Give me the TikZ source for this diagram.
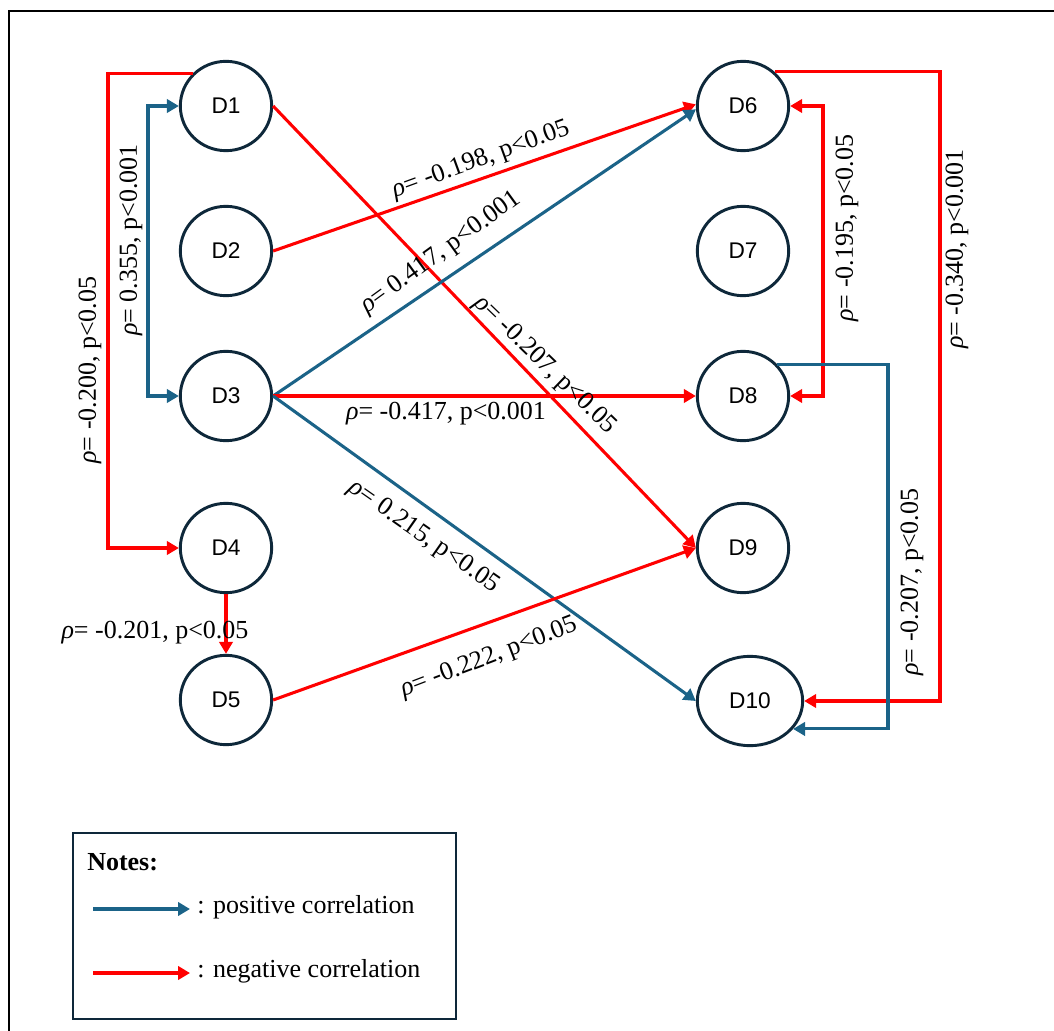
\documentclass[tikz,border=0pt]{standalone}
\usepackage{fontspec}
\setmainfont{Liberation Serif}
\newfontfamily\nodefont{Liberation Sans}
\usetikzlibrary{arrows.meta,shapes.geometric}
\definecolor{posblue}{RGB}{27,99,136}
\definecolor{negred}{RGB}{255,0,0}
\definecolor{navy}{RGB}{14,40,58}
\begin{document}
\begin{tikzpicture}[x=0.75pt,y=-0.75pt,
  dnode/.style={ellipse, draw=navy, line width=2.2pt, minimum width=68.5pt, minimum height=67pt, inner sep=0pt, font=\nodefont\fontsize{17}{19}\selectfont},
  tipa/.tip={Triangle[length=9pt,width=10pt]},
  negarrow/.style={draw=negred, line width=2.3pt, -tipa},
  posarrow/.style={draw=posblue, line width=2.3pt, -tipa},
  bothtips/.style={tipa-tipa},
  lab/.style={font=\fontsize{19.5}{21}\selectfont, inner sep=0pt},
  legtext/.style={font=\fontsize{19.5}{21}\selectfont, inner sep=0pt, anchor=west}
]
\useasboundingbox (0,0) rectangle (1054,1031);
\clip (0,0) rectangle (1054,1031);
\draw[line width=2pt, black] (9,11) rectangle (1080,1060);

% nodes
\node[dnode] (D1) at (226,106) {D1};
\node[dnode] (D2) at (226,251) {D2};
\node[dnode] (D3) at (226,396) {D3};
\node[dnode] (D4) at (226,548) {D4};
\node[dnode] (D5) at (226,700) {D5};
\node[dnode] (D6) at (743,106) {D6};
\node[dnode] (D7) at (743,251) {D7};
\node[dnode] (D8) at (743,396) {D8};
\node[dnode] (D9) at (743,548) {D9};
\node[dnode, minimum width=79pt] (D10) at (750,701) {D10};

% helper coordinates for orthogonal routes
\coordinate (xa) at (108,0);
\coordinate (xb) at (148,0);
\coordinate (xc) at (823,0);
\coordinate (xd) at (940,0);
\coordinate (xe) at (888,0);

% connectors
\draw[negarrow] (D1.135) -| (xa |- D4.west) -- (D4.west);
\draw[posarrow, bothtips] (D1.west) -| (xb |- D3.west) -- (D3.west);
\draw[negarrow] (D1.east) -- (D9.west);
\draw[negarrow] (D2.east) -- (D6.178);
\draw[posarrow] (D3.east) -- (D6.184);
\draw[negarrow] (D3.east) -- (D8.west);
\draw[posarrow] (D3.east) -- (D10.west);
\draw[negarrow] (D4.south) -- (D5.north);
\draw[negarrow] (D5.east) -- (D9.west);
\draw[negarrow, bothtips] (D6.east) -| (xc |- D8.east) -- (D8.east);
\draw[negarrow] (D6.47) -| (xd |- D10.east) -- (D10.east);
\draw[posarrow] (D8.43) -| (xe |- D10.-33) -- (D10.-33);

% labels
\node[lab, rotate=90] (L1) at (90,370) {\textit{ρ}= -0.200, p<0.05};
\node[lab, rotate=90] (L2) at (131,240) {\textit{ρ}= 0.355, p<0.001};
\node[lab, rotate=20] (L3) at (481,160) {\textit{ρ}= -0.198, p<0.05};
\node[lab, rotate=36] (L4) at (441,253) {\textit{ρ}= 0.417, p<0.001};
\node[lab, rotate=-44] (L5) at (545,365) {\textit{ρ}= -0.207, p<0.05};
\node[lab] (L6) at (446,414) {\textit{ρ}= -0.417, p<0.001};
\node[lab, rotate=-35] (L7) at (424,537) {\textit{ρ}= 0.215, p<0.05};
\node[lab] (L8) at (155,633) {\textit{ρ}= -0.201, p<0.05};
\node[lab, rotate=21] (L9) at (489,658) {\textit{ρ}= -0.222, p<0.05};
\node[lab, rotate=90] (L10) at (847,228) {\textit{ρ}= -0.195, p<0.05};
\node[lab, rotate=90] (L11) at (957,249) {\textit{ρ}= -0.340, p<0.001};
\node[lab, rotate=90] (L12) at (912,582) {\textit{ρ}= -0.207, p<0.05};

% legend
\draw[draw=navy, line width=2.2pt] (73,833) rectangle (456,1019);
\node[font=\bfseries\fontsize{19.5}{21}\selectfont, inner sep=0pt, anchor=west] (notes) at (87,862) {Notes:};
\coordinate (pa) at (93,909);
\coordinate (pb) at (190,909);
\coordinate (na) at (93,973);
\coordinate (nb) at (190,973);
\draw[posarrow] (pa) -- (pb);
\draw[negarrow] (na) -- (nb);
\node[legtext] (ptext) at (197,907) {: positive correlation};
\node[legtext] (ntext) at (197,971) {: negative correlation};
\end{tikzpicture}
\end{document}
